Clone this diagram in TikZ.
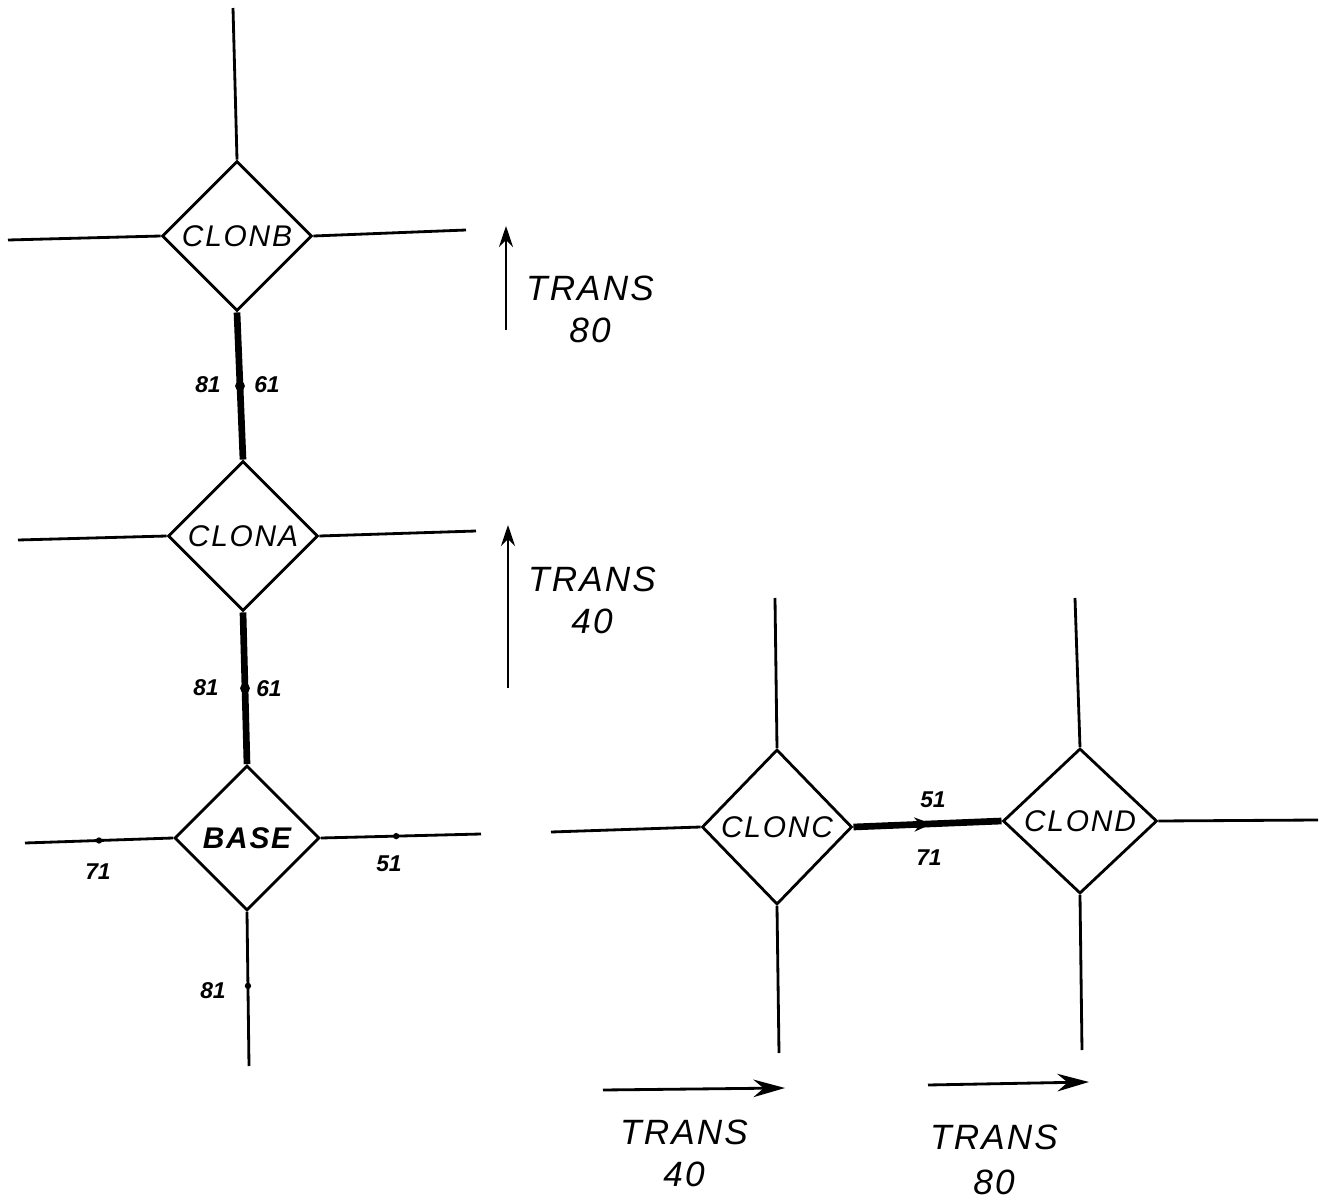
\documentclass[tikz,border=0pt]{standalone}
\usepackage{fontspec}
\setmainfont{Liberation Sans}
\newfontfamily\hand[LetterSpace=6]{Liberation Sans}
\usetikzlibrary{shapes.geometric,arrows.meta,decorations.markings}

\begin{document}
\begin{tikzpicture}[x=0.01cm,y=-0.01cm,
  wire/.style={line width=0.8pt},
  bond/.style={line width=1.9pt},
  block/.style={diamond, draw, line width=0.8pt, minimum width=1.5cm,
    minimum height=1.5cm, inner sep=0pt,
    font=\hand\itshape\fontsize{8.5}{8.5}\selectfont},
  tag/.style={inner sep=0pt, font=\itshape\bfseries\fontsize{6.5}{6.5}\selectfont},
  dot/.style={circle, fill, inner sep=0pt, minimum size=1.8pt},
  bigdot/.style={circle, fill, inner sep=0pt, minimum size=2.8pt},
  move/.style={line width=0.8pt, -{Stealth[length=6pt,width=4pt]}},
  movelabel/.style={align=center, inner sep=0pt,
    font=\hand\itshape\fontsize{10}{12}\selectfont},
  midarrow/.style={postaction=decorate, decoration={markings,
    mark=at position 0.53 with {\arrow{Stealth[length=5pt,width=4pt]}}}}
]
\useasboundingbox (0,0) rectangle (1323,1203);

% blocks
\node[block] (B) at (237,236) {CLONB};
\node[block] (A) at (243,536) {CLONA};
\node[block, minimum width=1.45cm, minimum height=1.45cm,
  font=\hand\itshape\bfseries\fontsize{8.5}{8.5}\selectfont] (S) at (247,838) {BASE};
\node[block, minimum height=1.55cm] (C) at (777,827) {CLONC};
\node[block, minimum width=1.54cm, minimum height=1.45cm] (D) at (1080,821) {CLOND};

% free wire ends
\coordinate (Bn) at (233,8);
\coordinate (Bw) at (8,240);
\coordinate (Be) at (466,230);
\coordinate (Aw) at (18,540);
\coordinate (Ae) at (476,531);
\coordinate (Sw) at (25,843);
\coordinate (Se) at (481,834);
\coordinate (Ss) at (249,1066);
\coordinate (Cn) at (775,598);
\coordinate (Cw) at (551,832);
\coordinate (Cs) at (779,1053);
\coordinate (Dn) at (1075,598);
\coordinate (De) at (1318,820);
\coordinate (Ds) at (1082,1050);

% open wires
\draw[wire] (B.north) -- (Bn);
\draw[wire] (B.west) -- (Bw);
\draw[wire] (B.east) -- (Be);
\draw[wire] (A.west) -- (Aw);
\draw[wire] (A.east) -- (Ae);
\draw[wire] (S.west) -- node[dot, pos=0.5] (p71) {} (Sw);
\draw[wire] (S.east) -- node[dot, pos=0.47] (p51) {} (Se);
\draw[wire] (S.south) -- node[dot, pos=0.48] (p81) {} (Ss);
\draw[wire] (C.north) -- (Cn);
\draw[wire] (C.west) -- (Cw);
\draw[wire] (C.south) -- (Cs);
\draw[wire] (D.north) -- (Dn);
\draw[wire] (D.east) -- (De);
\draw[wire] (D.south) -- (Ds);

% joined blocks
\draw[bond] (B.south) -- node[bigdot, pos=0.5] (jBA) {} (A.north);
\draw[bond] (A.south) -- node[bigdot, pos=0.5] (jAS) {} (S.north);
\draw[bond, midarrow] (C.east) -- (D.west);

% port labels
\node[tag] (l1) at (208,385) {81};
\node[tag] (l2) at (267,385) {61};
\node[tag] (l3) at (206,688) {81};
\node[tag] (l4) at (269,689) {61};
\node[tag] (l5) at (98,872) {71};
\node[tag] (l6) at (389,864) {51};
\node[tag] (l7) at (213,991) {81};
\node[tag] (l8) at (933,800) {51};
\node[tag] (l9) at (929,858) {71};

% translations
\coordinate (t1a) at (506,330);
\coordinate (t1b) at (506,226);
\coordinate (t2a) at (508,688);
\coordinate (t2b) at (508,525);
\coordinate (t3a) at (603,1090);
\coordinate (t3b) at (785,1088);
\coordinate (t4a) at (928,1085);
\coordinate (t4b) at (1089,1082);
\draw[move] (t1a) -- (t1b);
\draw[move] (t2a) -- (t2b);
\draw[move, -{Stealth[length=9pt,width=5pt]}] (t3a) -- (t3b);
\draw[move, -{Stealth[length=9pt,width=5pt]}] (t4a) -- (t4b);

\node[movelabel] (m1) at (590,309) {TRANS\\80};
\node[movelabel] (m2) at (592,600) {TRANS\\40};
\node[movelabel] (m3) at (684,1153) {TRANS\\40};
\node[movelabel, font=\hand\itshape\fontsize{10}{13}\selectfont] (m4) at (994,1160) {TRANS\\80};
\end{tikzpicture}
\end{document}
